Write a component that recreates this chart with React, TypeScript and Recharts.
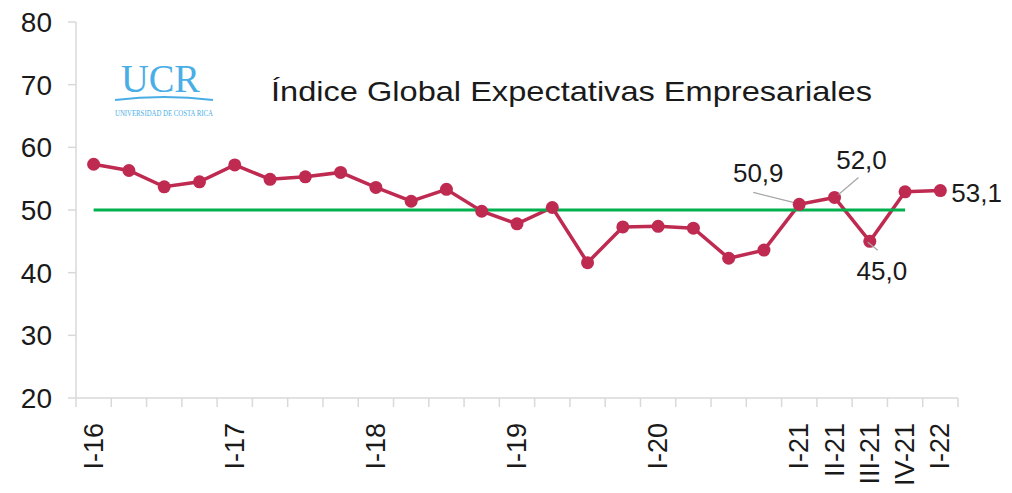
import { LineChart, Line, XAxis, YAxis, LabelList } from "recharts";

const quarters = [
  "I-16", "II-16", "III-16", "IV-16",
  "I-17", "II-17", "III-17", "IV-17",
  "I-18", "II-18", "III-18", "IV-18",
  "I-19", "II-19", "III-19", "IV-19",
  "I-20", "II-20", "III-20", "IV-20",
  "I-21", "II-21", "III-21", "IV-21",
  "I-22",
];

const indice = [
  57.3, 56.3, 53.7, 54.5,
  57.2, 54.9, 55.3, 56.0,
  53.6, 51.4, 53.3, 49.8,
  47.8, 50.4, 41.6, 47.3,
  47.4, 47.1, 42.3, 43.6,
  50.9, 52.0, 45.0, 52.9,
  53.1,
];

// neutral threshold line, drawn from I-16 to IV-21
const umbral = [
  50, 50, 50, 50,
  50, 50, 50, 50,
  50, 50, 50, 50,
  50, 50, 50, 50,
  50, 50, 50, 50,
  50, 50, 50, 50,
  null,
];

const shownTicks = ["I-16", "I-17", "I-18", "I-19", "I-20", "I-21", "II-21", "III-21", "IV-21", "I-22"];
const yTicks = [20, 30, 40, 50, 60, 70, 80];

const data = quarters.map((q, i) => ({ q, v: indice[i], u: umbral[i] }));

const W = 1012;
const H = 493;
const M = { top: 22, right: 54, bottom: 0, left: 0 };
const Y_W = 76;
const BAND = (W - M.right - Y_W) / quarters.length;

const RED = "#bf2a51";
const GREEN = "#00b04f";
const AXIS = "#d9d9d9";
const TXT = "#1a1a1a";
const FONT = "'Liberation Sans', Arial, sans-serif";

// where the value labels sit relative to their point, with leader lines
const labelPos: Record<string, { dx: number; dy: number; anchor: string; line?: number[] }> = {
  "I-21": { dx: -41, dy: -22, anchor: "middle", line: [-46, -12, -6, -2] },
  "II-21": { dx: 27, dy: -28, anchor: "middle", line: [24, -20, 4, -3] },
  "III-21": { dx: 12, dy: 39, anchor: "middle", line: [-2, 1, 8, 9] },
  "I-22": { dx: 11, dy: 11, anchor: "start" },
};

function XTick(props: any) {
  const { x, y, payload, index } = props;
  const half = BAND / 2;
  const show = shownTicks.includes(payload.value);
  return (
    <g>
      <line x1={x - half} x2={x - half} y1={y} y2={y + 9} stroke={AXIS} strokeWidth={1.5} />
      {index === quarters.length - 1 && (
        <line x1={x + half} x2={x + half} y1={y} y2={y + 9} stroke={AXIS} strokeWidth={1.5} />
      )}
      {show && (
        <text
          transform={`translate(${x + 9},${y + 25}) rotate(-90)`}
          textAnchor="end"
          fontSize={27}
          fontFamily={FONT}
          fill={TXT}
        >
          {payload.value}
        </text>
      )}
    </g>
  );
}

function ValueLabel(props: any) {
  const { x, y, value, index } = props;
  const pos = labelPos[quarters[index]];
  if (!pos) return null;
  const l = pos.line;
  return (
    <g>
      {l && <line x1={x + l[0]} y1={y + l[1]} x2={x + l[2]} y2={y + l[3]} stroke="#a6a6a6" strokeWidth={1.2} />}
      <text x={x + pos.dx} y={y + pos.dy} textAnchor={pos.anchor as any} fontSize={26} fontFamily={FONT} fill={TXT}>
        {Number(value).toFixed(1).replace(".", ",")}
      </text>
    </g>
  );
}

export default function App() {
  return (
    <div style={{ position: "absolute", left: 0, top: 0, width: W, height: H, background: "#fff" }}>
      <LineChart width={W} height={H} data={data} margin={M}>
        <XAxis
          dataKey="q"
          interval={0}
          padding={{ left: BAND / 2, right: BAND / 2 }}
          tick={<XTick />}
          tickLine={false}
          tickSize={0}
          tickMargin={0}
          height={95}
          axisLine={{ stroke: AXIS, strokeWidth: 1.5 }}
        />
        <YAxis
          domain={[20, 80]}
          ticks={yTicks}
          width={Y_W}
          tickSize={8}
          tickMargin={16}
          axisLine={{ stroke: AXIS, strokeWidth: 1.5 }}
          tickLine={{ stroke: AXIS, strokeWidth: 1.5 }}
          tick={{ fontSize: 28, fill: TXT, fontFamily: FONT }}
        />
        <Line
          dataKey="v"
          stroke={RED}
          strokeWidth={3.5}
          dot={{ r: 6.5, fill: RED, stroke: RED, strokeWidth: 0 }}
          isAnimationActive={false}
        >
          <LabelList dataKey="v" content={<ValueLabel />} />
        </Line>
        <Line
          dataKey="u"
          stroke={GREEN}
          strokeWidth={3.2}
          dot={false}
          activeDot={false}
          isAnimationActive={false}
        />
      </LineChart>
      <svg width={W} height={H} style={{ position: "absolute", left: 0, top: 0, pointerEvents: "none" }}>
        <text x={121} y={92} fontSize={40} fontFamily="'Liberation Serif', serif" fill="#4aaee6" textLength={79} lengthAdjust="spacingAndGlyphs">
          UCR
        </text>
        <path d="M115 100 Q164 94 213 100" stroke="#4aaee6" strokeWidth={2} fill="none" />
        <text x={115} y={116} fontSize={8} fontFamily="'Liberation Serif', serif" fill="#4aaee6" textLength={98} lengthAdjust="spacingAndGlyphs">
          UNIVERSIDAD DE COSTA RICA
        </text>
        <text x={271} y={101} fontSize={28} fontFamily={FONT} fill={TXT} textLength={601} lengthAdjust="spacingAndGlyphs">
          Índice Global Expectativas Empresariales
        </text>
      </svg>
    </div>
  );
}
